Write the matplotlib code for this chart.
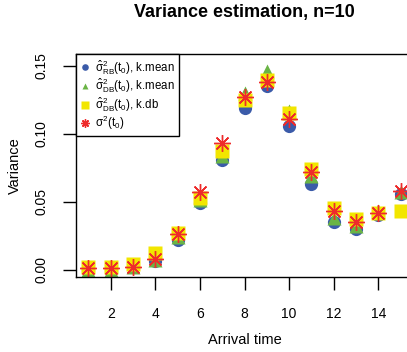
import numpy as np
import matplotlib
matplotlib.use("Agg")
import matplotlib.pyplot as plt
from matplotlib.ticker import FormatStrFormatter

plt.rcParams['font.family'] = ['Liberation Sans', 'DejaVu Sans']
plt.rcParams['mathtext.fontset'] = 'custom'
plt.rcParams['mathtext.rm'] = 'Liberation Sans'
plt.rcParams['mathtext.it'] = 'Liberation Sans'
plt.rcParams['mathtext.bf'] = 'Liberation Sans:bold'

# arrival times and variance estimates
arrival = np.arange(1, 16)
var_rb_mean = [0.000, 0.000, 0.002, 0.006, 0.022, 0.049, 0.081, 0.119, 0.135,
               0.106, 0.063, 0.035, 0.030, 0.040, 0.056]
var_db_mean = [0.000, 0.000, 0.002, 0.007, 0.024, 0.051, 0.084, 0.130, 0.146,
               0.117, 0.069, 0.038, 0.032, 0.043, 0.057]
var_db_db = [0.002, 0.002, 0.004, 0.012, 0.027, 0.053, 0.087, 0.125, 0.140,
             0.115, 0.074, 0.045, 0.037, 0.042, 0.043]
var_true = [0.001, 0.001, 0.002, 0.008, 0.026, 0.057, 0.093, 0.127, 0.138,
            0.111, 0.072, 0.043, 0.035, 0.042, 0.058]

labels = [r'$\hat{\sigma}^2_{\mathrm{RB}}(t_0)$, k.mean',
          r'$\hat{\sigma}^2_{\mathrm{DB}}(t_0)$, k.mean',
          r'$\hat{\sigma}^2_{\mathrm{DB}}(t_0)$, k.db',
          r'$\sigma^2(t_0)$']

blue = '#3b5ba9'
green = '#6ab445'
yellow = '#f2e600'
red = '#ee2b2b'

fig = plt.figure(figsize=(4.07, 3.52), dpi=100)
ax = fig.add_axes([76 / 407, 1 - 277 / 352, (413 - 76) / 407, (277 - 54) / 352])

ax.plot(arrival, var_rb_mean, 'o', color=blue, ms=9.5, mec='none', label=labels[0])
ax.plot(arrival, var_db_mean, '^', color=green, ms=10, mec='none', label=labels[1])
ax.plot(arrival, var_db_db, 's', color=yellow, ms=10.5, mec='none', label=labels[2])
ax.plot(arrival, var_true, ls='none', marker=(8, 2, 0), color=red, ms=12, mew=1.0,
        label=labels[3])

ax.set_xlim(0.44, 15.56)
ax.set_ylim(-0.0055, 0.1588)
ax.set_xticks([2, 4, 6, 8, 10, 12, 14])
ax.set_yticks([0.0, 0.05, 0.10, 0.15])
ax.yaxis.set_major_formatter(FormatStrFormatter('%.2f'))
for lab in ax.get_yticklabels():
    lab.set_rotation(90)
    lab.set_va('center')
ax.tick_params(direction='out', length=9.5, width=1, labelsize=10)
ax.tick_params(axis='x', pad=12)
ax.tick_params(axis='y', pad=10)
for s in ax.spines.values():
    s.set_linewidth(1)

ax.set_xlabel('Arrival time', fontsize=10.5, labelpad=9)
ax.set_ylabel('Variance', fontsize=10.5, labelpad=9)
fig.text(244 / 407, 1 - 13 / 352, 'Variance estimation, n=10', fontsize=13,
         fontweight='bold', ha='center', va='center')

leg = ax.legend(loc='upper left', borderaxespad=0, fontsize=8.3, markerscale=0.5,
                handlelength=0.8, handletextpad=0.5, labelspacing=0.0,
                borderpad=0.35, fancybox=False, framealpha=1, edgecolor='black')
leg.get_frame().set_linewidth(1)

fig.savefig('out.png', dpi=100)
